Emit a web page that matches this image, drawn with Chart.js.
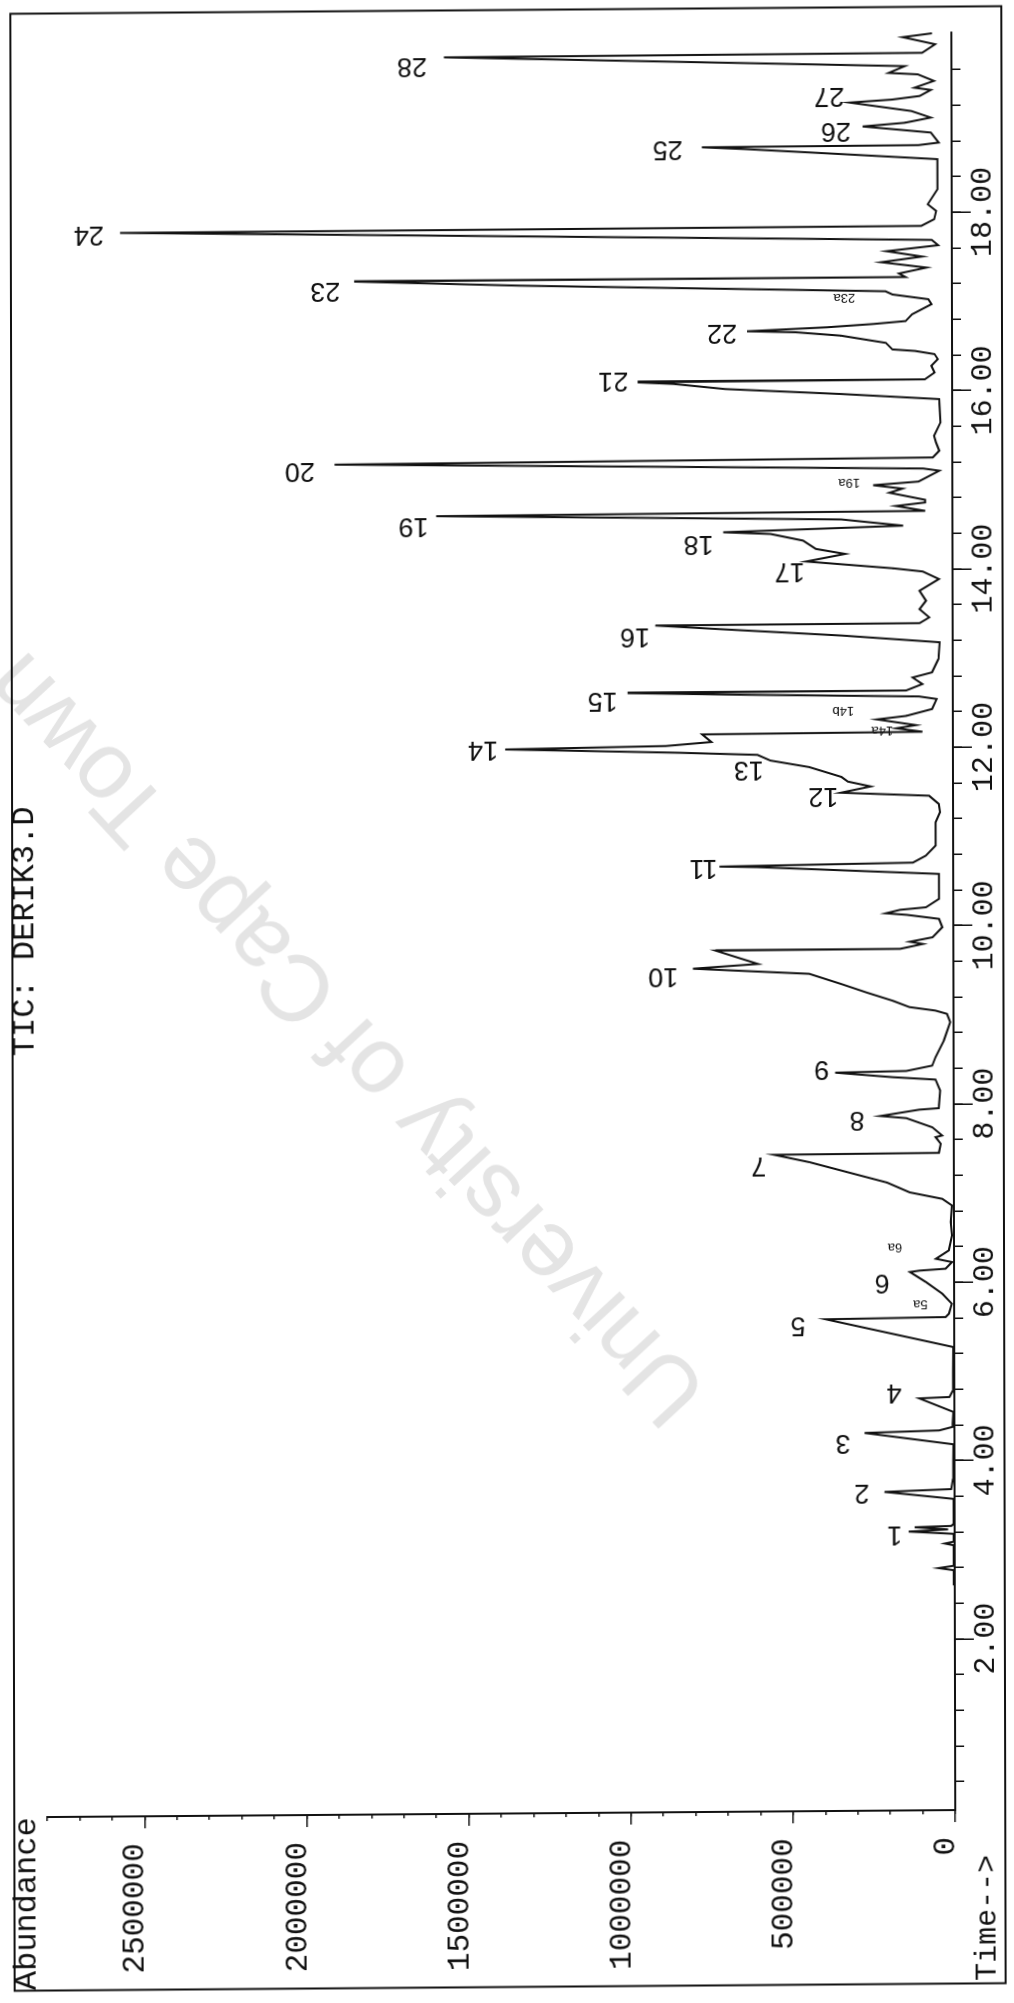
<!DOCTYPE html>
<html>
<head>
<meta charset="utf-8">
<title>TIC: DERIK3.D</title>
<script src="https://cdn.jsdelivr.net/npm/chart.js@4"></script>
<style>
  html, body { margin: 0; padding: 0; background: #fff; width: 1014px; height: 2003px; overflow: hidden; }
  /* the scanned page lies on its side and is a little skewed */
  #page {
    position: absolute; left: -494.5px; top: 494.5px; width: 2003px; height: 1014px;
    transform: matrix(-0.0022, -1, 1, -0.0077, 0, 0);
  }
</style>
</head>
<body>
<div id="page"><canvas id="tic" width="2003" height="1014"></canvas></div>
<script>
const traceTime = [
  2.60, 2.77, 2.795, 2.82, 3.05, 3.07, 3.09, 3.178, 3.207, 3.228, 3.255, 3.267, 3.29, 3.57, 3.654, 3.68, 3.797,
  4.182, 4.317, 4.339, 4.377, 4.545, 4.70, 4.713, 4.787, 4.993, 5.273, 5.595, 5.61, 5.647, 5.759, 5.871, 6.002,
  6.118, 6.133, 6.152, 6.226, 6.264, 6.357, 6.525, 6.675, 6.861, 6.936, 7.011, 7.123, 7.358, 7.444, 7.452, 7.553,
  7.628, 7.646, 7.739, 7.844, 7.870, 7.938, 7.953, 8.151, 8.274, 8.304, 8.360, 8.373, 8.431, 8.524, 8.711, 8.917,
  9.010, 9.048, 9.089, 9.160, 9.254, 9.354, 9.471, 9.538, 9.586, 9.739, 9.743, 9.796, 9.822, 9.870, 9.982, 10.076,
  10.124, 10.143, 10.181, 10.207, 10.300, 10.580, 10.672, 10.681, 10.709, 10.786, 10.898, 11.010, 11.160, 11.272,
  11.365, 11.458, 11.499, 11.567, 11.623, 11.676, 11.789, 11.866, 11.931, 11.961, 12.013, 12.038, 12.079, 12.165,
  12.176, 12.217, 12.251, 12.318, 12.355, 12.430, 12.542, 12.572, 12.606, 12.634, 12.640, 12.711, 12.785, 12.841,
  12.991, 13.178, 13.262, 13.349, 13.390, 13.394, 13.458, 13.551, 13.645, 13.757, 13.887, 13.973, 14.011, 14.095,
  14.177, 14.235, 14.330, 14.407, 14.430, 14.489, 14.564, 14.635, 14.653, 14.710, 14.747, 14.777, 14.859, 14.904,
  14.945, 14.982, 15.102, 15.128, 15.222, 15.251, 15.326, 15.419, 15.494, 15.644, 15.905, 15.970, 16.036, 16.098,
  16.118, 16.128, 16.204, 16.279, 16.353, 16.410, 16.447, 16.466, 16.540, 16.625, 16.667, 16.682, 16.720, 16.753,
  16.783, 16.858, 16.970, 17.026, 17.082, 17.119, 17.213, 17.273, 17.277, 17.317, 17.381, 17.445, 17.505, 17.568,
  17.631, 17.691, 17.839, 17.849, 17.923, 18.016, 18.091, 18.259, 18.596, 18.661, 18.726, 18.749, 18.755, 18.782,
  18.895, 18.969, 19.007, 19.063, 19.138, 19.238, 19.268, 19.306, 19.373, 19.399, 19.474, 19.549, 19.567, 19.642,
  19.780, 19.790, 19.885, 19.967, 20.008
];
const traceAbundance = [
  3000, 3000, 50000, 3000, 3000, 30000, 3000, 3000, 142000, 20000, 123000, 10000, 3000, 3000, 216000, 10000, 5000,
  3000, 277000, 47000, 6000, 3000, 108000, 15000, 4000, 4000, 3000, 396000, 26000, 16000, 7000, 36000, 86000,
  136000, 106000, 26000, 6000, 56000, 16000, 6000, 10000, 6000, 36000, 136000, 206000, 445000, 554000, 46000, 40000,
  56000, 36000, 66000, 146000, 226000, 106000, 46000, 42000, 56000, 186000, 365000, 146000, 66000, 56000, 30000, 10000,
  20000, 56000, 136000, 186000, 266000, 346000, 445000, 803000, 603000, 733000, 164000, 94000, 134000, 64000, 34000, 44000,
  144000, 208000, 164000, 84000, 44000, 44000, 605000, 721000, 124000, 84000, 54000, 54000, 54000, 40000,
  44000, 74000, 346000, 254000, 324000, 344000, 443000, 563000, 603000, 843000, 1381000, 885000, 745000, 773000,
  94000, 174000, 114000, 234000, 144000, 64000, 50000, 104000, 643000, 1003000, 144000, 94000, 124000, 64000,
  44000, 40000, 343000, 741000, 917000, 102000, 72000, 102000, 82000, 102000, 42000, 92000, 182000, 451000,
  331000, 421000, 461000, 561000, 707000, 152000, 343000, 1592000, 84000, 174000, 84000, 84000, 194000, 154000,
  244000, 104000, 40000, 90000, 1905000, 60000, 40000, 50000, 56000, 36000, 40000, 340000, 700000, 860000,
  970000, 84000, 54000, 64000, 44000, 54000, 114000, 184000, 204000, 343000, 483000, 632000, 385000, 243000,
  143000, 123000, 63000, 73000, 183000, 205000, 1330000, 1843000, 143000, 163000, 78000, 218000, 92000, 201000,
  42000, 62000, 2565000, 94000, 54000, 48000, 74000, 44000, 44000, 340000, 640000, 770000, 102000, 40000,
  64000, 274000, 144000, 64000, 124000, 314000, 184000, 98000, 64000, 114000, 54000, 104000, 194000, 144000,
  1565000, 90000, 50000, 150000, 60000
];

const timeLabels = [2, 4, 6, 8, 10, 12, 14, 16, 18];
const timeMinorTicks = [0.4, 0.8, 1.2, 1.6, 2, 2.4, 2.8, 3.2, 3.6, 4, 4.4, 4.8, 5.2, 5.6, 6, 6.4, 6.8, 7.2, 7.6, 8, 8.4, 8.8, 9.2, 9.6,
  10, 10.4, 10.8, 11.2, 11.6, 12, 12.4, 12.8, 13.2, 13.6, 14, 14.4, 14.8, 15.2, 15.6, 16, 16.4, 16.8, 17.2, 17.6, 18, 18.4, 18.8, 19.2, 19.6];
const abundanceLabels = [0, 500000, 1000000, 1500000, 2000000, 2500000];

// hand written peak numbers, placed by time and abundance
const peakNames = ["1", "2", "3", "4", "5", "5a", "6", "6a", "7", "8", "9", "10", "11", "12", "13", "14", "14a", "14b",
  "15", "16", "17", "18", "19", "19a", "20", "21", "22", "23a", "23", "24", "25", "26", "27", "28"];
const peakNameTime = [3.186, 3.655, 4.218, 4.774, 5.531, 5.763, 6.01, 6.40, 7.327, 7.841, 8.405, 9.467, 10.677, 11.47, 11.776, 12.023, 12.2, 12.423,
  12.553, 13.28, 13.996, 14.306, 14.532, 14.98, 15.158, 16.141, 16.671, 17.054, 17.174, 17.83, 18.734, 18.924, 19.317, 19.689];
const peakNameAbundance = [185000, 286000, 344000, 186000, 482000, 104000, 222000, 182000, 601000, 298000, 407000, 895000, 770000, 400000, 630000, 1449000, 218000, 338000,
  1080000, 980000, 502000, 783000, 1662000, 318000, 2012000, 1045000, 709000, 332000, 1933000, 2661000, 876000, 357000, 377000, 1664000];

const INK = "#111";

const scanExtras = {
  id: "scanExtras",
  beforeDraw(chart) {
    const c = chart.ctx;
    c.save();
    // watermark
    c.translate(968, 348);
    c.rotate(-42.5 * Math.PI / 180);
    c.font = "94px 'Liberation Sans'";
    c.fillStyle = "#e4e4e4";
    c.textAlign = "center";
    c.textBaseline = "middle";
    c.fillText("University of Cape Town", 0, 0);
    c.restore();
  },
  afterDraw(chart) {
    const c = chart.ctx;
    const xs = chart.scales.x, ys = chart.scales.y;
    c.save();
    c.strokeStyle = INK;
    c.lineWidth = 2;
    c.strokeRect(16.5, 12, 1977, 991);

    c.fillStyle = INK;
    c.textBaseline = "alphabetic";
    c.font = "32px 'Liberation Mono'";
    c.fillText("Abundance", 17, 33);
    c.fillText("TIC: DERIK3.D", 951, 33);
    c.font = "30px 'Liberation Mono'";
    c.fillText("Time-->", 19, 993);

    c.textAlign = "center";
    c.textBaseline = "middle";
    peakNames.forEach((name, i) => {
      c.save();
      c.translate(xs.getPixelForValue(peakNameTime[i]), ys.getPixelForValue(peakNameAbundance[i]));
      c.rotate(-Math.PI / 2);
      c.font = name.endsWith("a") || name.endsWith("b") ? "13px 'Liberation Sans'" : "27px 'Liberation Sans'";
      c.fillText(name, 0, 0);
      c.restore();
    });
    c.restore();
  }
};

new Chart(document.getElementById("tic"), {
  type: "scatter",
  plugins: [scanExtras],
  data: {
    datasets: [
      {
        label: "TIC",
        data: traceTime.map((t, i) => ({ x: t, y: traceAbundance[i] })),
        showLine: true,
        borderColor: INK,
        borderWidth: 2,
        pointRadius: 0,
        tension: 0,
      },
    ],
  },
  options: {
    responsive: false,
    animation: false,
    events: [],
    layout: { padding: { left: 0, top: 45, right: 35, bottom: 0 } },
    plugins: { legend: { display: false }, tooltip: { enabled: false } },
    scales: {
      x: {
        type: "linear",
        min: 0.08,
        max: 20.02,
        border: { color: INK, width: 2 },
        grid: { drawOnChartArea: false, color: INK, lineWidth: 1.5, tickLength: 19 },
        ticks: {
          color: INK,
          font: { family: "Liberation Mono", size: 30 },
          padding: -6,
          maxRotation: 0,
          autoSkip: false,
          callback: (v) => v.toFixed(2),
        },
        afterBuildTicks(axis) { axis.ticks = timeLabels.map((v) => ({ value: v })); },
        afterFit(axis) { axis.height = 61; axis.paddingLeft = 0; axis.paddingRight = 0; },
      },
      xMinor: {
        type: "linear",
        position: "bottom",
        weight: -1,
        min: 0.08,
        max: 20.02,
        border: { display: false },
        grid: { drawOnChartArea: false, color: INK, lineWidth: 1.5, tickLength: 9 },
        ticks: { display: false, autoSkip: false },
        afterBuildTicks(axis) { axis.ticks = timeMinorTicks.map((v) => ({ value: v })); },
        afterFit(axis) { axis.height = 0; axis.paddingLeft = 0; axis.paddingRight = 0; },
      },
      y: {
        min: 0,
        max: 2800000,
        border: { color: INK, width: 2 },
        grid: { drawOnChartArea: false, color: INK, lineWidth: 1.5, tickLength: 12 },
        ticks: {
          color: INK,
          font: { family: "Liberation Mono", size: 31 },
          padding: 15,
          labelOffset: -9,
          autoSkip: false,
          callback: (v) => String(v),
        },
        afterBuildTicks(axis) { axis.ticks = abundanceLabels.map((v) => ({ value: v })); },
        afterFit(axis) { axis.width = 190; axis.paddingTop = 0; axis.paddingBottom = 0; },
      },
      yMinor: {
        position: "left",
        weight: -1,
        min: 0,
        max: 2800000,
        border: { display: false },
        grid: { drawOnChartArea: false, color: INK, lineWidth: 1.5, tickLength: 4 },
        ticks: { display: false, stepSize: 100000, autoSkip: false },
        afterFit(axis) { axis.width = 0; axis.paddingTop = 0; axis.paddingBottom = 0; },
      },
    },
  },
});
</script>
</body>
</html>
